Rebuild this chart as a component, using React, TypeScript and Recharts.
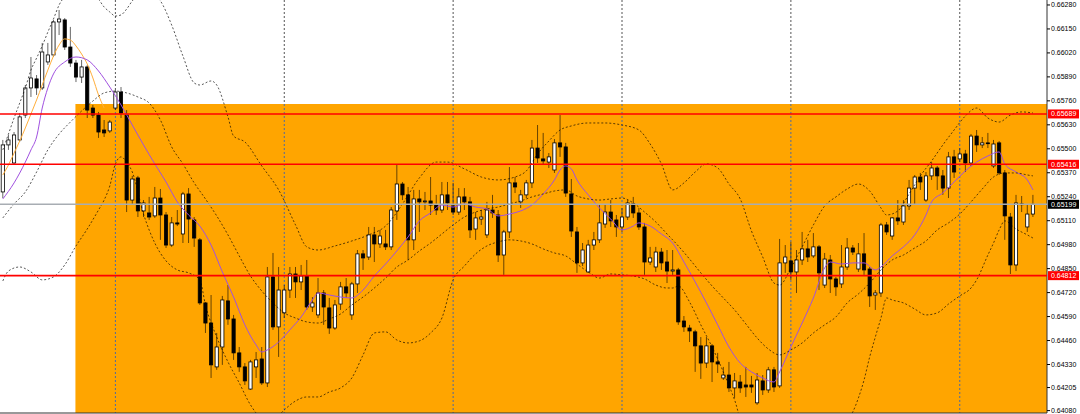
import React from 'react';
import { ComposedChart, Bar, Line, XAxis, YAxis, ReferenceArea, ReferenceLine } from 'recharts';

// ---------- candle data (index = bar number, left to right) ----------
const opens = [
  0.65266, 0.65521, 0.65423, 0.65548, 0.65683, 0.65830, 0.65879, 0.65830, 0.65971, 0.66009,
  0.66188, 0.66199, 0.66052, 0.65965, 0.65889, 0.65944, 0.65721, 0.65683, 0.65602, 0.65597,
  0.65721, 0.65808, 0.65683, 0.65222, 0.65342, 0.65163, 0.65152, 0.65136, 0.65233, 0.65141,
  0.64978, 0.65098, 0.65038, 0.65255, 0.65114, 0.65006, 0.64664, 0.64555, 0.64317, 0.64425,
  0.64675, 0.64577, 0.64393, 0.64317, 0.64197, 0.64317, 0.64360, 0.64230, 0.64805, 0.64534,
  0.64610, 0.64734, 0.64821, 0.64778, 0.64810, 0.64642, 0.64599, 0.64718, 0.64637, 0.64528,
  0.64658, 0.64751, 0.64599, 0.64767, 0.64930, 0.64913, 0.65033, 0.64984, 0.64984, 0.64968,
  0.65163, 0.65309, 0.65250, 0.65006, 0.65228, 0.65212, 0.65217, 0.65195, 0.65168, 0.65250,
  0.65190, 0.65157, 0.65239, 0.65212, 0.65065, 0.65119, 0.65033, 0.65168, 0.65141, 0.64924,
  0.65049, 0.65315, 0.65212, 0.65250, 0.65315, 0.65504, 0.65445, 0.65428, 0.65385, 0.65532,
  0.65510, 0.65255, 0.65049, 0.64881, 0.64832, 0.64978, 0.65006, 0.65092, 0.65157, 0.65114,
  0.65076, 0.65130, 0.65201, 0.65152, 0.65076, 0.64886, 0.64859, 0.64940, 0.64886, 0.64837,
  0.64843, 0.64566, 0.64528, 0.64507, 0.64431, 0.64338, 0.64431, 0.64344, 0.64257, 0.64273,
  0.64203, 0.64235, 0.64219, 0.64219, 0.64122, 0.64241, 0.64192, 0.64301, 0.64214, 0.64881,
  0.64892, 0.64832, 0.64897, 0.64957, 0.64919, 0.64968, 0.64761, 0.64897, 0.64794, 0.64767,
  0.64859, 0.64962, 0.64848, 0.64930, 0.64848, 0.64707, 0.64718, 0.65087, 0.65027, 0.65125,
  0.65103, 0.65190, 0.65287, 0.65347, 0.65222, 0.65353, 0.65396, 0.65353, 0.65287, 0.65456,
  0.65445, 0.65472, 0.65423, 0.65569, 0.65521, 0.65532, 0.65407, 0.65532, 0.65369, 0.65130,
  0.64870, 0.65201, 0.65076, 0.65146,
];
const highs = [
  0.65548, 0.65575, 0.65591, 0.65694, 0.65846, 0.65998, 0.65900, 0.66074, 0.66074, 0.66199,
  0.66253, 0.66209, 0.66161, 0.65982, 0.65982, 0.65955, 0.65738, 0.65700, 0.65656, 0.65656,
  0.65819, 0.65835, 0.65710, 0.65353, 0.65353, 0.65222, 0.65239, 0.65293, 0.65282, 0.65157,
  0.65130, 0.65168, 0.65266, 0.65287, 0.65130, 0.65016, 0.64669, 0.64707, 0.64501, 0.64702,
  0.64761, 0.64599, 0.64425, 0.64338, 0.64355, 0.64398, 0.64425, 0.64859, 0.64935, 0.64859,
  0.64761, 0.64859, 0.64859, 0.64870, 0.64897, 0.64696, 0.64799, 0.64734, 0.64691, 0.64680,
  0.64778, 0.64799, 0.64778, 0.64951, 0.64951, 0.65076, 0.65076, 0.65060, 0.65060, 0.65184,
  0.65412, 0.65320, 0.65293, 0.65277, 0.65277, 0.65266, 0.65347, 0.65250, 0.65320, 0.65320,
  0.65315, 0.65287, 0.65287, 0.65239, 0.65157, 0.65168, 0.65212, 0.65250, 0.65168, 0.65060,
  0.65401, 0.65347, 0.65277, 0.65331, 0.65548, 0.65629, 0.65586, 0.65477, 0.65553, 0.65683,
  0.65532, 0.65336, 0.65076, 0.64989, 0.65006, 0.65049, 0.65195, 0.65195, 0.65222, 0.65141,
  0.65179, 0.65222, 0.65239, 0.65179, 0.65098, 0.64968, 0.64968, 0.64962, 0.64951, 0.64951,
  0.64854, 0.64593, 0.64545, 0.64518, 0.64479, 0.64479, 0.64441, 0.64393, 0.64317, 0.64344,
  0.64284, 0.64273, 0.64317, 0.64268, 0.64284, 0.64273, 0.64317, 0.64317, 0.65011, 0.64978,
  0.64995, 0.64951, 0.65049, 0.65006, 0.65043, 0.64978, 0.64935, 0.64924, 0.64805, 0.64978,
  0.65016, 0.64978, 0.64989, 0.65043, 0.64859, 0.64734, 0.65098, 0.65103, 0.65130, 0.65222,
  0.65222, 0.65331, 0.65358, 0.65369, 0.65374, 0.65428, 0.65407, 0.65385, 0.65483, 0.65494,
  0.65504, 0.65494, 0.65580, 0.65602, 0.65564, 0.65586, 0.65548, 0.65542, 0.65385, 0.65152,
  0.65250, 0.65244, 0.65195, 0.65250,
];
const lows = [
  0.65233, 0.65494, 0.65412, 0.65537, 0.65667, 0.65781, 0.65792, 0.65819, 0.65955, 0.65998,
  0.66117, 0.66036, 0.65944, 0.65862, 0.65857, 0.65667, 0.65667, 0.65559, 0.65564, 0.65586,
  0.65710, 0.65667, 0.65157, 0.65195, 0.65130, 0.65130, 0.65114, 0.65125, 0.65006, 0.64962,
  0.64968, 0.65081, 0.64989, 0.64989, 0.64968, 0.64653, 0.64501, 0.64257, 0.64301, 0.64328,
  0.64545, 0.64355, 0.64290, 0.64219, 0.64192, 0.64257, 0.64219, 0.64208, 0.64518, 0.64371,
  0.64582, 0.64691, 0.64691, 0.64734, 0.64626, 0.64615, 0.64582, 0.64545, 0.64496, 0.64518,
  0.64626, 0.64691, 0.64572, 0.64718, 0.64843, 0.64897, 0.64886, 0.64962, 0.64951, 0.64951,
  0.65114, 0.65222, 0.64897, 0.64951, 0.65049, 0.65168, 0.65141, 0.65141, 0.65152, 0.65168,
  0.65141, 0.65141, 0.65168, 0.65016, 0.65006, 0.65087, 0.65016, 0.65125, 0.64886, 0.64816,
  0.65016, 0.65260, 0.65179, 0.65233, 0.65287, 0.65423, 0.65412, 0.65396, 0.65369, 0.65456,
  0.65239, 0.65022, 0.64827, 0.64864, 0.64827, 0.64951, 0.64989, 0.65071, 0.65076, 0.65022,
  0.65049, 0.65114, 0.65125, 0.65060, 0.64816, 0.64870, 0.64832, 0.64843, 0.64772, 0.64816,
  0.64545, 0.64507, 0.64452, 0.64290, 0.64252, 0.64311, 0.64235, 0.64284, 0.64246, 0.64181,
  0.64149, 0.64176, 0.64154, 0.64176, 0.64111, 0.64165, 0.64176, 0.64181, 0.64203, 0.64827,
  0.64789, 0.64718, 0.64870, 0.64886, 0.64908, 0.64734, 0.64745, 0.64718, 0.64702, 0.64745,
  0.64843, 0.64924, 0.64832, 0.64816, 0.64642, 0.64626, 0.64696, 0.65033, 0.65006, 0.65087,
  0.65087, 0.65168, 0.65195, 0.65277, 0.65212, 0.65331, 0.65277, 0.65250, 0.65233, 0.65342,
  0.65428, 0.65374, 0.65407, 0.65483, 0.65504, 0.65504, 0.65396, 0.65358, 0.65006, 0.64821,
  0.64837, 0.65157, 0.65049, 0.65130,
];
const closes = [
  0.65521, 0.65548, 0.65575, 0.65673, 0.65830, 0.65884, 0.65830, 0.66025, 0.66009, 0.66188,
  0.66204, 0.66052, 0.65965, 0.65889, 0.65944, 0.65710, 0.65683, 0.65591, 0.65586, 0.65645,
  0.65808, 0.65694, 0.65222, 0.65336, 0.65163, 0.65206, 0.65130, 0.65233, 0.65141, 0.64978,
  0.65098, 0.65092, 0.65255, 0.65119, 0.65016, 0.64664, 0.64555, 0.64328, 0.64425, 0.64680,
  0.64577, 0.64393, 0.64317, 0.64241, 0.64344, 0.64355, 0.64230, 0.64805, 0.64534, 0.64734,
  0.64734, 0.64821, 0.64778, 0.64810, 0.64642, 0.64664, 0.64718, 0.64642, 0.64528, 0.64653,
  0.64751, 0.64718, 0.64767, 0.64930, 0.64908, 0.65033, 0.64984, 0.65027, 0.64968, 0.65168,
  0.65309, 0.65250, 0.65006, 0.65228, 0.65212, 0.65217, 0.65195, 0.65168, 0.65250, 0.65206,
  0.65157, 0.65239, 0.65212, 0.65060, 0.65125, 0.65130, 0.65168, 0.65152, 0.64924, 0.65049,
  0.65315, 0.65293, 0.65250, 0.65315, 0.65504, 0.65450, 0.65434, 0.65456, 0.65532, 0.65510,
  0.65260, 0.65054, 0.64881, 0.64951, 0.64978, 0.65006, 0.65098, 0.65157, 0.65109, 0.65076,
  0.65130, 0.65206, 0.65152, 0.65076, 0.64886, 0.64908, 0.64940, 0.64881, 0.64837, 0.64843,
  0.64561, 0.64534, 0.64512, 0.64431, 0.64338, 0.64431, 0.64344, 0.64333, 0.64273, 0.64203,
  0.64241, 0.64203, 0.64208, 0.64208, 0.64246, 0.64192, 0.64301, 0.64208, 0.64881, 0.64913,
  0.64832, 0.64897, 0.64957, 0.64913, 0.64968, 0.64827, 0.64902, 0.64794, 0.64751, 0.64859,
  0.64962, 0.64940, 0.64930, 0.64843, 0.64702, 0.64718, 0.65087, 0.65049, 0.65125, 0.65109,
  0.65190, 0.65287, 0.65347, 0.65320, 0.65353, 0.65396, 0.65353, 0.65287, 0.65456, 0.65374,
  0.65472, 0.65423, 0.65569, 0.65521, 0.65532, 0.65529, 0.65526, 0.65369, 0.65136, 0.64870,
  0.65206, 0.65199, 0.65146, 0.65199,
];

// ---------- indicator lines: [bar index, price] ----------
const upperBand = [
  [0, 0.65494], [1, 0.65580], [2, 0.65667], [3, 0.65748], [4, 0.65830], [5, 0.65927], [6, 0.65992], [7, 0.66058],
  [8, 0.66133], [9, 0.66204], [10, 0.66280], [12, 0.66350], [14, 0.66383], [16, 0.66350], [17, 0.66312], [18, 0.66269],
  [19, 0.66242], [20, 0.66220], [21, 0.66226], [22, 0.66258], [23, 0.66302], [24, 0.66334], [26, 0.66350], [28, 0.66302],
  [30, 0.66171], [32, 0.66003], [34, 0.65857], [35, 0.65846], [37, 0.65868], [38, 0.65846], [40, 0.65673], [41, 0.65569],
  [43, 0.65537], [46, 0.65407], [49, 0.65277], [52, 0.65087], [54, 0.64968], [56, 0.64951], [59, 0.64973], [62, 0.65000],
  [65, 0.65033], [68, 0.65081], [71, 0.65201], [74, 0.65342], [77, 0.65428], [79, 0.65428], [82, 0.65391], [85, 0.65347],
  [88, 0.65331], [91, 0.65347], [93, 0.65380], [95, 0.65472], [97, 0.65542], [99, 0.65602], [101, 0.65624], [104, 0.65640],
  [107, 0.65640], [110, 0.65629], [113, 0.65602], [115, 0.65526], [117, 0.65418], [119, 0.65277], [121, 0.65315], [123, 0.65374],
  [125, 0.65418], [127, 0.65396], [129, 0.65309], [131, 0.65228], [133, 0.65054], [135, 0.64913], [137, 0.64772], [138, 0.64761],
  [140, 0.64854], [142, 0.64968], [144, 0.65087], [146, 0.65190], [148, 0.65239], [150, 0.65282], [152, 0.65309], [154, 0.65271],
  [156, 0.65179], [157, 0.65141], [159, 0.65163], [161, 0.65255], [163, 0.65353], [165, 0.65434], [167, 0.65521], [169, 0.65602],
  [171, 0.65678], [173, 0.65721], [175, 0.65667], [177, 0.65645], [179, 0.65683], [181, 0.65700], [183, 0.65694],
];
const middleBand = [
  [0, 0.65125], [2, 0.65201], [4, 0.65266], [6, 0.65374], [8, 0.65494], [10, 0.65580], [12, 0.65645], [14, 0.65705],
  [16, 0.65759], [18, 0.65803], [20, 0.65813], [22, 0.65803], [24, 0.65781], [26, 0.65748], [28, 0.65656], [30, 0.65510],
  [32, 0.65418], [34, 0.65315], [36, 0.65228], [38, 0.65136], [40, 0.65033], [42, 0.64919], [44, 0.64810], [46, 0.64729],
  [48, 0.64664], [50, 0.64610], [52, 0.64582], [54, 0.64561], [56, 0.64555], [58, 0.64577], [60, 0.64604], [62, 0.64653],
  [64, 0.64696], [66, 0.64745], [68, 0.64799], [70, 0.64859], [72, 0.64897], [74, 0.64946], [76, 0.64989], [78, 0.65038],
  [80, 0.65087], [82, 0.65130], [84, 0.65157], [86, 0.65174], [88, 0.65184], [90, 0.65201], [92, 0.65217], [94, 0.65239],
  [96, 0.65255], [98, 0.65271], [100, 0.65277], [102, 0.65244], [104, 0.65228], [106, 0.65222], [108, 0.65228], [110, 0.65233],
  [112, 0.65206], [114, 0.65157], [116, 0.65103], [118, 0.65038], [120, 0.64973], [122, 0.64902], [124, 0.64827], [126, 0.64756],
  [128, 0.64691], [130, 0.64626], [132, 0.64550], [134, 0.64474], [136, 0.64414], [138, 0.64382], [140, 0.64409], [142, 0.64447],
  [144, 0.64501], [146, 0.64545], [148, 0.64588], [150, 0.64664], [152, 0.64713], [154, 0.64772], [156, 0.64843], [158, 0.64897],
  [160, 0.64924], [162, 0.64962], [164, 0.65000], [166, 0.65060], [168, 0.65098], [170, 0.65146], [172, 0.65212], [174, 0.65282],
  [176, 0.65347], [178, 0.65369], [180, 0.65369], [182, 0.65358], [183, 0.65353],
];
const lowerBand = [
  [0, 0.64783], [1, 0.64837], [3, 0.64859], [5, 0.64832], [7, 0.64789], [9, 0.64805], [11, 0.64870], [13, 0.64973],
  [15, 0.65065], [17, 0.65168], [18, 0.65222], [19, 0.65298], [20, 0.65418], [21, 0.65456], [22, 0.65428], [23, 0.65374],
  [25, 0.65146], [27, 0.64989], [29, 0.64892], [31, 0.64843], [33, 0.64827], [35, 0.64789], [36, 0.64653], [38, 0.64479],
  [40, 0.64344], [42, 0.64230], [44, 0.64111], [46, 0.64040], [48, 0.64029], [50, 0.64084], [52, 0.64132], [54, 0.64154],
  [56, 0.64154], [58, 0.64181], [60, 0.64203], [62, 0.64257], [64, 0.64382], [66, 0.64501], [68, 0.64507], [70, 0.64463],
  [72, 0.64447], [74, 0.64458], [76, 0.64501], [78, 0.64582], [80, 0.64789], [82, 0.64864], [84, 0.64930], [86, 0.64973],
  [88, 0.64995], [90, 0.65006], [92, 0.65000], [94, 0.64984], [96, 0.64957], [98, 0.64935], [100, 0.64919], [102, 0.64875],
  [104, 0.64832], [106, 0.64799], [108, 0.64821], [110, 0.64816], [112, 0.64810], [114, 0.64794], [116, 0.64761], [118, 0.64745],
  [119, 0.64745], [120, 0.64756], [122, 0.64669], [124, 0.64545], [126, 0.64425], [128, 0.64290], [130, 0.64138], [132, 0.63959],
  [136, 0.63975], [140, 0.63964], [144, 0.63915], [148, 0.63937], [150, 0.64029], [151, 0.64073], [152, 0.64149], [153, 0.64246],
  [154, 0.64371], [155, 0.64479], [156, 0.64582], [157, 0.64691], [158, 0.64680], [160, 0.64664], [162, 0.64631], [164, 0.64599],
  [166, 0.64610], [168, 0.64658], [170, 0.64702], [172, 0.64745], [173, 0.64789], [175, 0.64924], [176, 0.64989], [177, 0.65060],
  [178, 0.65109], [180, 0.65065], [182, 0.65033], [183, 0.65016],
];
const slowMA = [
  [0, 0.65228], [2, 0.65315], [4, 0.65428], [5, 0.65494], [6, 0.65564], [7, 0.65721], [8, 0.65830], [9, 0.65906],
  [11, 0.65971], [13, 0.65998], [15, 0.65982], [17, 0.65922], [19, 0.65835], [21, 0.65738], [23, 0.65629], [25, 0.65521],
  [27, 0.65418], [29, 0.65320], [31, 0.65212], [33, 0.65141], [35, 0.65081], [37, 0.64978], [39, 0.64832], [41, 0.64696],
  [43, 0.64545], [45, 0.64436], [46, 0.64398], [47, 0.64409], [49, 0.64452], [51, 0.64518], [53, 0.64588], [55, 0.64680],
  [56, 0.64718], [58, 0.64707], [60, 0.64696], [62, 0.64691], [64, 0.64734], [66, 0.64810], [68, 0.64875], [70, 0.64946],
  [72, 0.65022], [74, 0.65109], [76, 0.65152], [78, 0.65195], [80, 0.65184], [82, 0.65201], [84, 0.65184], [86, 0.65174],
  [88, 0.65136], [90, 0.65146], [92, 0.65163], [94, 0.65195], [96, 0.65255], [98, 0.65331], [99, 0.65385], [100, 0.65407],
  [101, 0.65391], [102, 0.65331], [104, 0.65250], [106, 0.65179], [108, 0.65119], [110, 0.65060], [112, 0.65081], [113, 0.65098],
  [115, 0.65081], [117, 0.65038], [119, 0.64989], [121, 0.64886], [123, 0.64778], [125, 0.64664], [127, 0.64545], [129, 0.64425],
  [131, 0.64338], [133, 0.64290], [135, 0.64257], [137, 0.64235], [138, 0.64290], [140, 0.64425], [142, 0.64555], [144, 0.64691],
  [146, 0.64854], [147, 0.64886], [149, 0.64875], [151, 0.64881], [153, 0.64881], [155, 0.64843], [156, 0.64859], [158, 0.64919],
  [160, 0.64968], [162, 0.65033], [164, 0.65141], [165, 0.65212], [167, 0.65261], [169, 0.65320], [171, 0.65380], [173, 0.65428],
  [175, 0.65461], [177, 0.65483], [178, 0.65418], [180, 0.65374], [182, 0.65331], [183, 0.65277],
];
const fastMA = [
  [0, 0.65358], [1, 0.65412], [2, 0.65477], [3, 0.65542], [4, 0.65613], [5, 0.65689], [6, 0.65765], [7, 0.65846],
  [8, 0.65927], [9, 0.66003], [10, 0.66063], [11, 0.66096], [12, 0.66090], [13, 0.66058], [14, 0.66014], [15, 0.65960],
  [16, 0.65884], [17, 0.65792], [18, 0.65721],
];

// ---------- levels, ticks, zones ----------
const redLevels = [0.65689, 0.65416, 0.64812];
const bidPrice = 0.65199;
const zoneTop = 0.65743;
const zoneStartBar = 12.9;
const daySeparators = [20, 50, 80, 110, 140, 170];
const yTicks = [
  0.66280, 0.66150, 0.66020, 0.65890, 0.65760, 0.65630, 0.65500, 0.65370, 0.65240,
  0.65110, 0.64980, 0.64850, 0.64720, 0.64590, 0.64460, 0.64330, 0.64205, 0.64080,
];
const yDomain = [0.64067, 0.66307];
const xDomain = [-0.5, 185.5];

const candles = opens.map((o, i) => ({
  i,
  open: o,
  high: highs[i],
  low: lows[i],
  close: closes[i],
  range: [lows[i], highs[i]],
}));
const toPts = (arr: number[][]) => arr.map(([i, v]) => ({ i, v }));

const FONT = '"Liberation Sans", Arial, sans-serif';

function CandleShape(props: any) {
  const { x, y, width, height, payload } = props;
  if (x == null || y == null || !payload) return null;
  const top = Math.min(y, y + height);
  const bot = Math.max(y, y + height);
  const span = payload.high - payload.low || 1e-9;
  const toY = (v: number) => top + ((payload.high - v) / span) * (bot - top);
  const cx = x + width / 2;
  const yo = toY(payload.open);
  const yc = toY(payload.close);
  const bodyTop = Math.min(yo, yc);
  const bodyH = Math.max(Math.abs(yc - yo), 0.8);
  const bull = payload.close >= payload.open;
  return (
    <g>
      <line x1={cx} x2={cx} y1={top} y2={bot} stroke="#000" strokeOpacity={0.6} strokeWidth={1} />
      <rect
        x={cx - 1.6}
        y={bodyTop}
        width={3.2}
        height={bodyH}
        fill={bull ? '#ffffff' : '#000000'}
        stroke="#000"
        strokeWidth={0.8}
      />
    </g>
  );
}

function PriceTick(props: any) {
  const { x, y, payload } = props;
  return (
    <text x={x} y={y + 2.5} fontSize={7} fontFamily={FONT} fill="#000" textAnchor="start">
      {Number(payload.value).toFixed(5)}
    </text>
  );
}

function Badge({ viewBox, text, fill }: any) {
  if (!viewBox) return null;
  const right = viewBox.x + viewBox.width;
  const cy = viewBox.y;
  return (
    <g>
      <rect x={right + 1} y={cy - 4.5} width={31} height={9} fill={fill} />
      <text x={right + 4} y={cy + 2.5} fontSize={7} fontFamily={FONT} fill="#fff">
        {text}
      </text>
    </g>
  );
}

export default function App() {
  return (
    <div style={{ position: 'absolute', left: 0, top: 0, width: 1080, height: 414, background: '#fff' }}>
      <ComposedChart width={1080} height={414} data={candles} margin={{ top: 0, right: 0, bottom: 0, left: 0 }}>
        <XAxis
          dataKey="i"
          type="number"
          domain={xDomain}
          allowDataOverflow
          tick={false}
          tickLine={false}
          height={1}
          axisLine={{ stroke: '#333' }}
        />
        <YAxis
          orientation="right"
          width={33}
          type="number"
          domain={yDomain}
          allowDataOverflow
          ticks={yTicks}
          interval={0}
          tick={<PriceTick />}
          tickSize={3}
          tickMargin={1}
          tickLine={{ stroke: '#000' }}
          axisLine={{ stroke: '#333' }}
        />
        <ReferenceArea
          x1={zoneStartBar}
          y1={zoneTop}
          fill="#FFA500"
          fillOpacity={1}
          stroke="none"
          ifOverflow="visible"
          zIndex={50}
        />
        {daySeparators.map((s) => (
          <ReferenceLine
            key={'sa' + s}
            segment={[{ x: s, y: yDomain[1] }, { x: s, y: zoneTop }]}
            stroke="#555"
            strokeDasharray="2 2"
            zIndex={250}
          />
        ))}
        {daySeparators.map((s) => (
          <ReferenceLine
            key={'sb' + s}
            segment={[{ x: s, y: zoneTop }, { x: s, y: yDomain[0] }]}
            stroke="#4a6aa5"
            strokeDasharray="2 2"
            zIndex={250}
          />
        ))}
        <Bar dataKey="range" shape={CandleShape} barSize={3.6} isAnimationActive={false} zIndex={300} />
        <Line data={toPts(fastMA)} dataKey="v" type="monotone" stroke="#FFAE3A" strokeWidth={1} dot={false} activeDot={false} isAnimationActive={false} zIndex={400} />
        <Line data={toPts(slowMA)} dataKey="v" type="monotone" stroke="#A050E0" strokeWidth={1} dot={false} activeDot={false} isAnimationActive={false} zIndex={400} />
        <Line data={toPts(upperBand)} dataKey="v" type="monotone" stroke="#000" strokeOpacity={0.65} strokeWidth={1} strokeDasharray="2 2" dot={false} activeDot={false} isAnimationActive={false} zIndex={400} />
        <Line data={toPts(middleBand)} dataKey="v" type="monotone" stroke="#000" strokeOpacity={0.65} strokeWidth={1} strokeDasharray="2 2" dot={false} activeDot={false} isAnimationActive={false} zIndex={400} />
        <Line data={toPts(lowerBand)} dataKey="v" type="monotone" stroke="#000" strokeOpacity={0.65} strokeWidth={1} strokeDasharray="2 2" dot={false} activeDot={false} isAnimationActive={false} zIndex={400} />
        <ReferenceLine
          y={bidPrice}
          stroke="#A8ADB3"
          strokeWidth={1.5}
          zIndex={500}
          label={{ content: (p: any) => <Badge viewBox={p.viewBox} text={bidPrice.toFixed(5)} fill="#000" /> }}
        />
        {redLevels.map((lv) => (
          <ReferenceLine
            key={'r' + lv}
            y={lv}
            stroke="#FF0000"
            strokeWidth={1.6}
            zIndex={600}
            label={{ content: (p: any) => <Badge viewBox={p.viewBox} text={lv.toFixed(5)} fill="#FF0000" /> }}
          />
        ))}
      </ComposedChart>
    </div>
  );
}
